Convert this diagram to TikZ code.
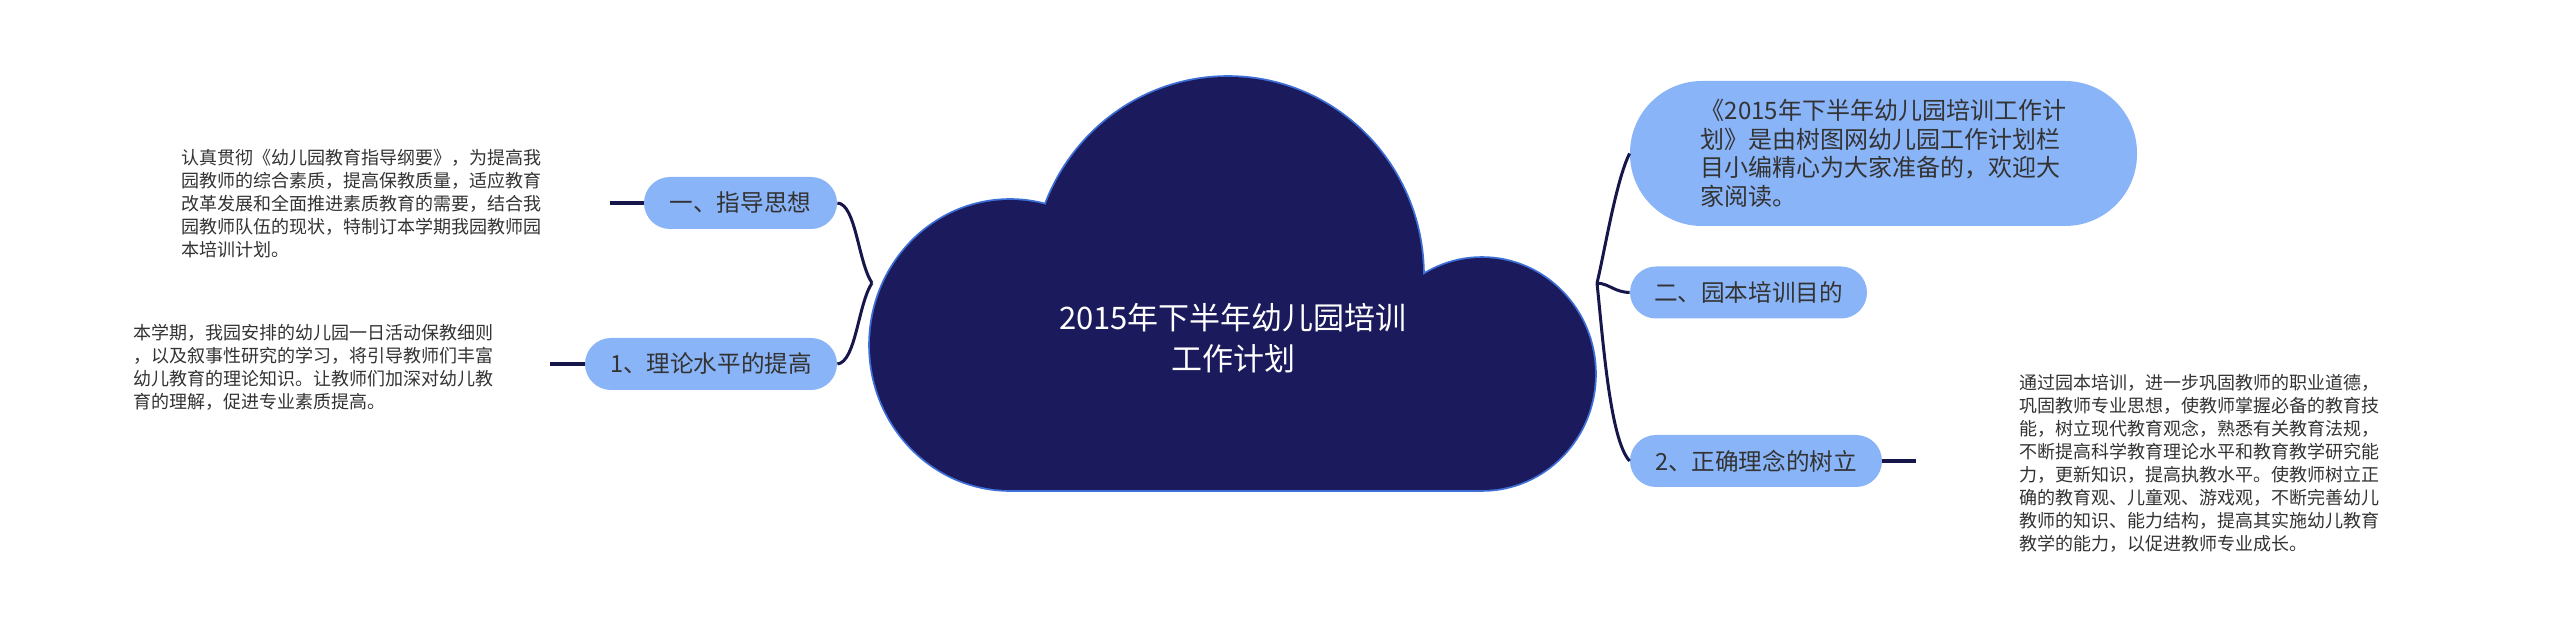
\documentclass[tikz,border=0pt]{standalone}
\usepackage{fontspec}
\setmainfont{Noto Sans CJK SC}
\definecolor{navy}{HTML}{1B1A5C}
\definecolor{cloudedge}{HTML}{3D6FD6}
\definecolor{boxblue}{HTML}{8AB4F8}
\definecolor{linec}{HTML}{16164A}
\definecolor{txt}{HTML}{333333}
\tikzset{
  pill/.style={fill=boxblue, draw=none, rounded corners=13pt, minimum height=26pt,
    inner sep=0pt, text=txt, font=\fontsize{11.8pt}{14pt}\selectfont},
  bigpill/.style={fill=boxblue, draw=none, rounded corners=36pt, minimum height=72.5pt,
    minimum width=253.5pt, inner sep=0pt, text=txt, align=left,
    font=\fontsize{12pt}{14.25pt}\selectfont},
  note/.style={anchor=north west, inner sep=0pt, align=left, text=txt,
    font=\fontsize{9pt}{11.5pt}\selectfont},
  conn/.style={draw=linec, line width=1.5pt},
  stub/.style={draw=linec, line width=1.6pt},
}
\begin{document}
\begin{tikzpicture}[x=0.5pt,y=-0.5pt]
\path[use as bounding box, fill=white] (0,0) rectangle (2560,640);

% cloud: outline then fill (union)
\begin{scope}
  \draw[cloudedge, line width=1.8pt] (1010,345) ellipse [x radius=70pt, y radius=72.5pt];
  \draw[cloudedge, line width=1.8pt] (1228,275) ellipse [x radius=97.5pt, y radius=99pt];
  \draw[cloudedge, line width=1.8pt] (1482,374) ellipse [x radius=56.5pt, y radius=58pt];
  \draw[cloudedge, line width=1.8pt] (1010,300) rectangle (1482,490);
  \fill[navy] (1010,345) ellipse [x radius=70pt, y radius=72.5pt];
  \fill[navy] (1228,275) ellipse [x radius=97.5pt, y radius=99pt];
  \fill[navy] (1482,374) ellipse [x radius=56.5pt, y radius=58pt];
  \fill[navy] (1010,300) rectangle (1482,490);
\end{scope}
\node[align=center, text=white, inner sep=0pt, font=\fontsize{15.5pt}{20.5pt}\selectfont]
  (title) at (1233,338) {2015年下半年幼儿园培训\\工作计划};
\coordinate (lt) at (872,283);
\coordinate (rt) at (1597,283);

% left side
\node[pill, minimum width=96.5pt] (boxA) at (740.5,203) {一、指导思想};
\node[pill, minimum width=126pt] (boxB) at (711,364) {1、理论水平的提高};
\node[note] (noteA) at (181,149) {认真贯彻《幼儿园教育指导纲要》，为提高我\\园教师的综合素质，提高保教质量，适应教育\\改革发展和全面推进素质教育的需要，结合我\\园教师队伍的现状，特制订本学期我园教师园\\本培训计划。};
\node[note] (noteB) at (133,324) {本学期，我园安排的幼儿园一日活动保教细则\\，以及叙事性研究的学习，将引导教师们丰富\\幼儿教育的理论知识。让教师们加深对幼儿教\\育的理解，促进专业素质提高。};
\coordinate (stubA) at (610,203);
\coordinate (stubB) at (550,364);

% right side
\node[bigpill] (boxE) at (1883.5,153.5) {《2015年下半年幼儿园培训工作计\\划》是由树图网幼儿园工作计划栏\\目小编精心为大家准备的，欢迎大\\家阅读。};
\node[pill, minimum width=118.5pt] (boxC) at (1748.5,292.5) {二、园本培训目的};
\node[pill, minimum width=126pt] (boxD) at (1756,461) {2、正确理念的树立};
\node[note] (noteD) at (2019,374) {通过园本培训，进一步巩固教师的职业道德，\\巩固教师专业思想，使教师掌握必备的教育技\\能，树立现代教育观念，熟悉有关教育法规，\\不断提高科学教育理论水平和教育教学研究能\\力，更新知识，提高执教水平。使教师树立正\\确的教育观、儿童观、游戏观，不断完善幼儿\\教师的知识、能力结构，提高其实施幼儿教育\\教学的能力，以促进教师专业成长。};
\coordinate (stubD) at (1916,461);

% connectors
\draw[conn] (boxA.east) .. controls (856,204) and (858,262) .. (lt);
\draw[conn] (boxB.east) .. controls (856,362) and (858,304) .. (lt);
\draw[conn] (rt) .. controls (1604,255) and (1616,180) .. (boxE.west);
\draw[conn] (rt) .. controls (1610,284) and (1614,292) .. (boxC.west);
\draw[conn] (rt) .. controls (1603,340) and (1610,440) .. (boxD.west);
\draw[stub] (boxA.west) -- (stubA);
\draw[stub] (boxB.west) -- (stubB);
\draw[stub] (boxD.east) -- (stubD);
\end{tikzpicture}
\end{document}
